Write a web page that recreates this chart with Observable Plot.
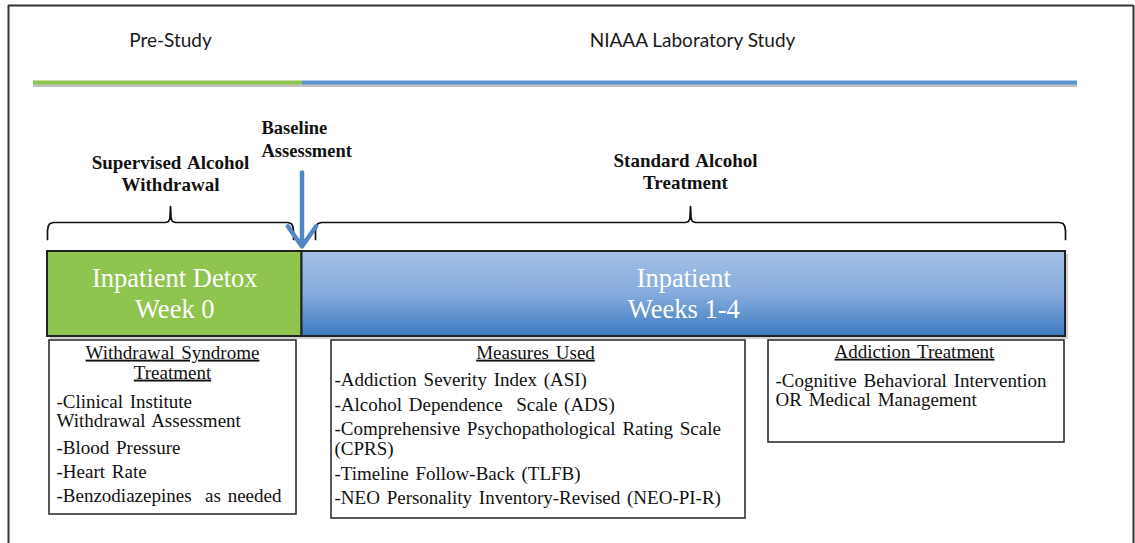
<!DOCTYPE html>
<html>
<head>
<meta charset="utf-8">
<script src="https://cdn.jsdelivr.net/npm/d3@7"></script>
<script src="https://cdn.jsdelivr.net/npm/@observablehq/plot@0.6"></script>
<style>
  html, body { margin: 0; padding: 0; background: #fff; }
  #chart svg { display: block; }
</style>
</head>
<body>
<div id="chart"></div>
<script>
// ---------- content ----------
const periods = ["Pre-Study", "NIAAA Laboratory Study"];
const phaseLabels = ["Inpatient Detox\nWeek 0", "Inpatient\nWeeks 1-4"];
const phaseStart = [0, 1];   // weeks
const phaseEnd = [1, 4];     // weeks
const braceLabels = ["Supervised Alcohol\nWithdrawal", "Standard Alcohol\nTreatment"];
const markerLabel = "Baseline\nAssessment";
const markerWeek = 1;
const boxTitles = ["Withdrawal Syndrome\nTreatment", "Measures Used", "Addiction Treatment"];
const withdrawalItems = ["-Clinical Institute", "Withdrawal Assessment", "-Blood Pressure", "-Heart Rate", "-Benzodiazepines  as needed"];
const measureItems = ["-Addiction Severity Index (ASI)", "-Alcohol Dependence  Scale (ADS)", "-Comprehensive Psychopathological Rating Scale", "(CPRS)", "-Timeline Follow-Back (TLFB)", "-NEO Personality Inventory-Revised (NEO-PI-R)"];
const treatmentItems = ["-Cognitive Behavioral Intervention", "OR Medical Management"];

// ---------- layout (pixels, converted to week units for the x scale) ----------
const X = px => (px - 47) / 254.5;
const colors = {green: "#8fc44f", blue: "#5b93d3", arrow: "#4f86c6", border: "#222"};

const periodLayout = [{x: 170, y: 40, x1: 33, x2: 302, c: colors.green}, {x: 692, y: 40, x1: 302, x2: 1077, c: colors.blue}];
const lineY = 82;
const barY1 = 251, barY2 = 336;
const braceLayout = [{x0: 47, x1: 293, xc: 170}, {x0: 315, x1: 1065, xc: 690}];
const braceY = 222;
const braceLabelLayout = [{x: 170, y: 163}, {x: 685, y: 161}];
const boxLayout = [
  {x1: 49, x2: 296, y1: 340, y2: 514, tx: 172, ty: 355, ix: 56, iy: [401, 420, 447, 471, 495]},
  {x1: 331, x2: 745, y1: 340, y2: 518, tx: 535, ty: 355, ix: 334, iy: [379, 404, 428, 448, 473, 497]},
  {x1: 768, x2: 1064, y1: 340, y2: 442, tx: 914, ty: 354, ix: 775, iy: [380, 399]}
];
const boxItems = [withdrawalItems, measureItems, treatmentItems];

// ---------- derived tables ----------
const phases = phaseLabels.map((label, i) => ({label, start: phaseStart[i], end: phaseEnd[i], fill: i === 0 ? colors.green : "url(#blueGrad)", mid: (phaseStart[i] + phaseEnd[i]) / 2}));
const periodRows = periods.map((t, i) => ({text: t, x: X(periodLayout[i].x), y: periodLayout[i].y, x1: X(periodLayout[i].x1), x2: X(periodLayout[i].x2), c: periodLayout[i].c}));

function brace(b) {
  const y = braceY, {x0, x1, xc} = b;
  const pts = [
    [x0, y + 17], [x0, y + 8], [x0 + 0.8, y + 3.5], [x0 + 2.5, y + 1], [x0 + 6, y],
    [xc - 5, y], [xc - 2, y - 1], [xc - 0.6, y - 4], [xc, y - 16],
    [xc + 0.6, y - 4], [xc + 2, y - 1], [xc + 5, y],
    [x1 - 6, y], [x1 - 2.5, y + 1], [x1 - 0.8, y + 3.5], [x1, y + 8], [x1, y + 17]
  ];
  return pts.map(([px, py]) => ({x: X(px), y: py}));
}
const braces = braceLayout.map(brace);
const braceTexts = braceLabels.map((t, i) => ({text: t, x: X(braceLabelLayout[i].x), y: braceLabelLayout[i].y}));

const boxes = boxLayout.map(b => ({x1: X(b.x1), x2: X(b.x2), y1: b.y1, y2: b.y2}));
const titleRows = boxTitles.map((t, i) => ({text: t, x: X(boxLayout[i].tx), y: boxLayout[i].ty}));
const itemRows = boxItems.flatMap((items, i) => items.map((t, j) => ({text: t, x: X(boxLayout[i].ix), y: boxLayout[i].iy[j]})));

const serif = "'Liberation Serif', 'Times New Roman', serif";
const sans = "Lato, 'Open Sans', sans-serif";
const titleInk = "#101010";

const frame = [{x: X(8)}, {x: X(1133)}];

const chart = Plot.plot({
  width: 1135,
  height: 543,
  margin: 0,
  x: {domain: [0, 4], range: [47, 1065], axis: null},
  y: {domain: [0, 543], range: [0, 543], axis: null},
  style: {background: "white", overflow: "hidden"},
  marks: [
    // outer frame
    Plot.ruleX(frame, {x: "x", y1: 5, y2: 543, stroke: "#333", strokeWidth: 2}),
    Plot.ruleY([5], {x1: X(8), x2: X(1133), stroke: "#333", strokeWidth: 2}),
    // period lines with shadow
    Plot.ruleY(periodRows, {y: lineY + 3, x1: "x1", x2: "x2", stroke: "#999", strokeWidth: 3, strokeOpacity: 0.6}),
    Plot.ruleY(periodRows, {y: lineY, x1: "x1", x2: "x2", stroke: "c", strokeWidth: 4}),
    Plot.text(periodRows, {x: "x", y: "y", text: "text", fontFamily: sans, fontSize: 19, fill: "#1a1a1a"}),
    // braces
    ...braces.map(b => Plot.line(b, {x: "x", y: "y", stroke: "#111", strokeWidth: 1.7})),
    Plot.text(braceTexts, {x: "x", y: "y", text: "text", fontFamily: serif, fontWeight: "bold", fontSize: 19, lineHeight: 1.15, fill: "#111", lineAnchor: "top", dy: -10}),
    Plot.text([markerLabel], {x: X(261), y: 127, text: d => d, textAnchor: "start", fontFamily: serif, fontWeight: "bold", fontSize: 18.5, lineHeight: 1.24, fill: "#111", lineAnchor: "top", dy: -10}),
    // bar shadow
    Plot.rect(phases, {x1: "start", x2: "end", y1: barY1 + 3, y2: barY2 + 3, dx: 3, fill: "#000", fillOpacity: 0.18}),
    // phase bars
    Plot.rect(phases, {x1: "start", x2: "end", y1: barY1, y2: barY2, fill: "fill", stroke: colors.border, strokeWidth: 2}),
    Plot.text(phases, {x: "mid", y: (barY1 + barY2) / 2 - 1, text: "label", fontFamily: serif, fontSize: 26.5, lineHeight: 1.17, fill: "white"}),
    // baseline arrow
    Plot.arrow([markerWeek], {x1: d => d, x2: d => d, y1: 172, y2: 246, stroke: colors.arrow, strokeWidth: 4.5, headLength: 14, headAngle: 70}),
    // boxes
    Plot.rect(boxes, {x1: "x1", x2: "x2", y1: "y1", y2: "y2", fill: "white", stroke: "#222", strokeWidth: 1.5}),
    Plot.text(titleRows, {x: "x", y: "y", text: "text", fontFamily: serif, fontSize: 19, lineHeight: 1.05, lineAnchor: "top", dy: -11, fill: titleInk}),
    Plot.text(itemRows, {x: "x", y: "y", text: "text", textAnchor: "start", fontFamily: serif, fontSize: 19, fill: "#111"})
  ]
});

// gradient for the blue bar
const ns = "http://www.w3.org/2000/svg";
const defs = document.createElementNS(ns, "defs");
defs.innerHTML = '<linearGradient id="blueGrad" x1="0" y1="0" x2="0" y2="1">' +
  '<stop offset="0" stop-color="#a3c0e6"/><stop offset="0.5" stop-color="#86abdc"/><stop offset="1" stop-color="#3c7bc2"/></linearGradient>';
chart.insertBefore(defs, chart.firstChild);
chart.querySelectorAll("text").forEach(t => { t.setAttribute("xml:space", "preserve"); t.style.whiteSpace = "pre"; });
// underline the box titles, widen word gaps in the boxes (justified look)
chart.querySelectorAll(`g[fill="${titleInk}"] text`).forEach(t => { t.setAttribute("text-decoration", "underline"); t.style.wordSpacing = "2px"; });
chart.querySelectorAll(`g[fill="#111"] text`).forEach(t => { t.style.wordSpacing = "2px"; });
document.getElementById("chart").appendChild(chart);
</script>
</body>
</html>
